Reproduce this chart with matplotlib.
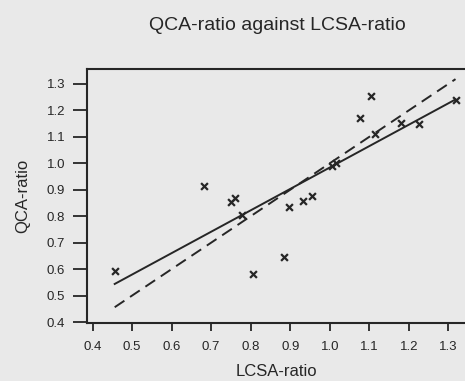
import numpy as np
import matplotlib.pyplot as plt

plt.rcParams['font.family'] = ['Liberation Sans', 'DejaVu Sans']

# LCSA-ratio vs QCA-ratio per case
lcsa_ratio = [0.456, 0.681, 0.751, 0.761, 0.778, 0.805, 0.885, 0.896, 0.933,
              0.955, 1.005, 1.015, 1.076, 1.103, 1.114, 1.179, 1.225, 1.318]
qca_ratio = [0.593, 0.914, 0.855, 0.870, 0.805, 0.580, 0.645, 0.836, 0.858,
             0.878, 0.990, 1.000, 1.170, 1.255, 1.111, 1.154, 1.148, 1.240]

# least-squares fit (solid) and line of identity (dashed)
fit_slope = 0.809
fit_intercept = 0.175

x_ticks = [0.4, 0.5, 0.6, 0.7, 0.8, 0.9, 1.0, 1.1, 1.2, 1.3]
y_ticks = [0.4, 0.5, 0.6, 0.7, 0.8, 0.9, 1.0, 1.1, 1.2, 1.3]

ink = '#262626'
bg = '#e9e9e9'

fig = plt.figure(figsize=(4.65, 3.81), dpi=100, facecolor=bg)
ax = fig.add_axes([0.188, 0.152, 0.812, 0.666], facecolor=bg)

ax.scatter(lcsa_ratio, qca_ratio, marker='x', s=24, linewidths=1.6, color=ink, zorder=3)

xs = np.array([min(lcsa_ratio), max(lcsa_ratio)])
ax.plot(xs, fit_intercept + fit_slope * xs, color=ink, lw=1.4)
ax.plot(xs, xs, color=ink, lw=1.4, linestyle=(0, (6, 3.5)))

ax.set_xlim(0.387, 1.342)
ax.set_ylim(0.396, 1.355)
ax.set_xticks(x_ticks)
ax.set_yticks(y_ticks)
ax.set_xticklabels([f'{t:.1f}' for t in x_ticks])
ax.set_yticklabels([f'{t:.1f}' for t in y_ticks])

for side in ['left', 'top', 'bottom']:
    ax.spines[side].set_color(ink)
    ax.spines[side].set_linewidth(1.5)
ax.spines['right'].set_visible(False)

ax.tick_params(axis='x', direction='out', length=6, width=1.3, pad=7,
               labelsize=9.5, colors=ink)
ax.tick_params(axis='y', direction='out', length=10, width=1.3, pad=6,
               labelsize=9.5, colors=ink)

ax.set_xlabel('LCSA-ratio', fontsize=12, color=ink, labelpad=8)
ax.set_ylabel('QCA-ratio', fontsize=12, color=ink, labelpad=12)
fig.text(0.596, 0.932, 'QCA-ratio against LCSA-ratio', fontsize=14,
         color=ink, ha='center', va='center')

fig.savefig('out.png', dpi=100, facecolor=bg)
